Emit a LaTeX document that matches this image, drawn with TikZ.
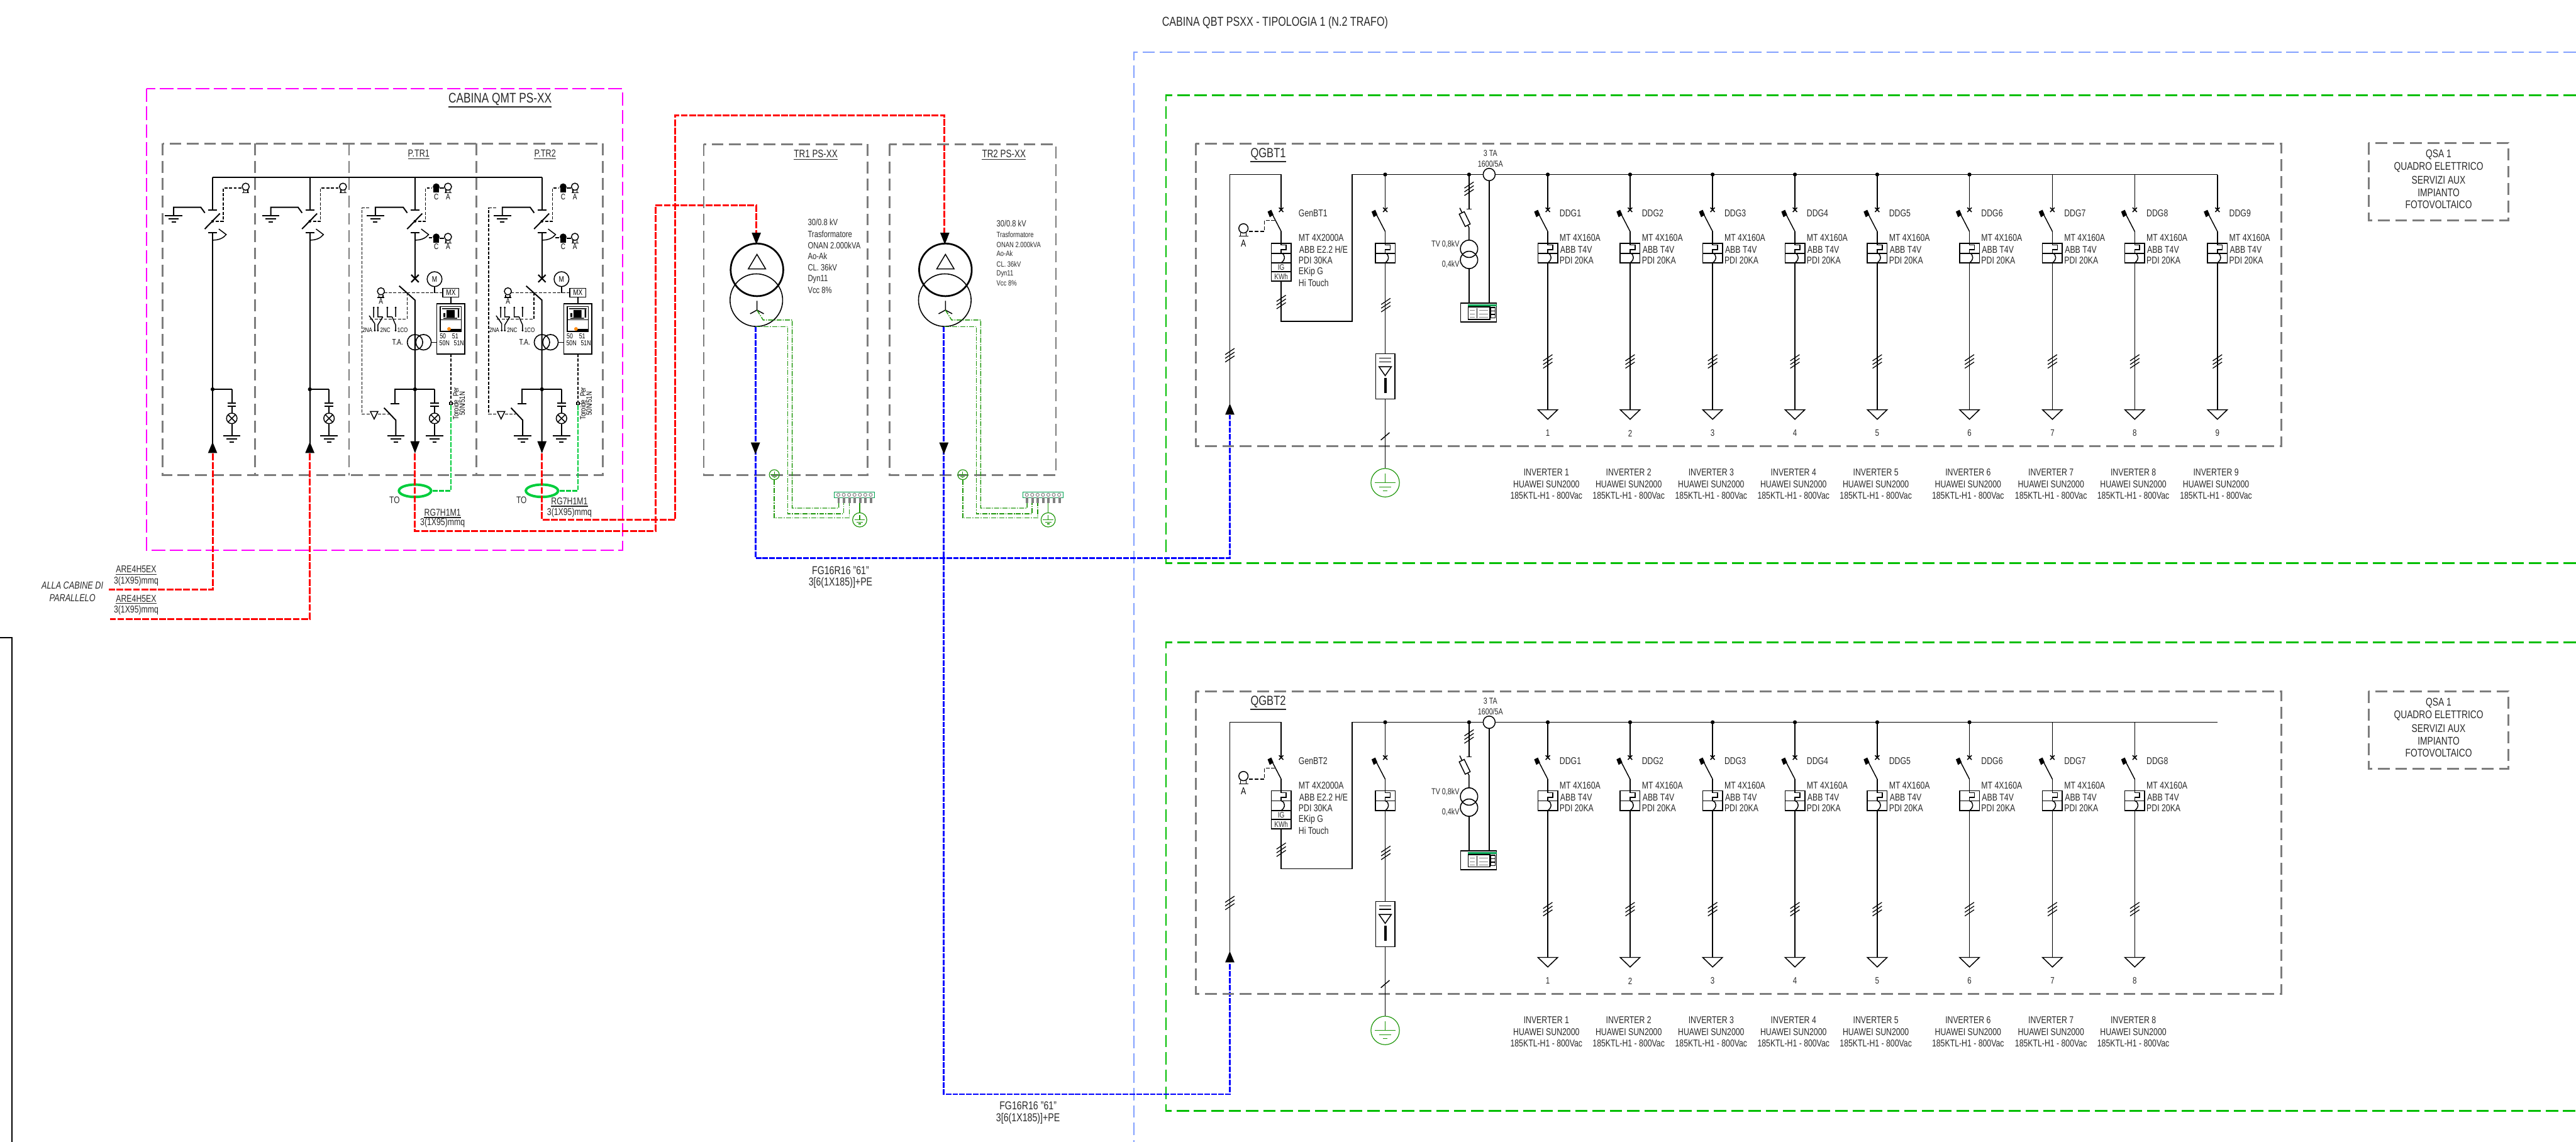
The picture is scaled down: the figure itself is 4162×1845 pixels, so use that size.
\documentclass[tikz,border=0pt]{standalone}
\usepackage{fontspec}
\setmainfont[FakeStretch=0.78]{Liberation Sans}
\definecolor{txtc}{RGB}{40,40,40}
\definecolor{greyb}{RGB}{125,125,125}
\definecolor{lblue}{RGB}{130,160,255}
\definecolor{gbox}{RGB}{0,190,0}
\definecolor{gearth}{RGB}{30,150,10}
\definecolor{mgreen}{RGB}{0,160,80}
\definecolor{magc}{RGB}{255,0,255}
\definecolor{redc}{RGB}{255,0,0}
\definecolor{bluc}{RGB}{0,0,255}
\definecolor{ringc}{RGB}{0,205,60}
\definecolor{orng}{RGB}{255,140,20}
\newcounter{tn}
\newcommand\fs[1]{\fontsize{#1}{#1}\selectfont}
\newcommand\T[4][]{\stepcounter{tn}\edef\tnm{t\arabic{tn}}\node[txt,#1] (\tnm) at (#2,#3) {#4};}
\newcommand\U[4][]{\stepcounter{tn}\edef\tnm{t\arabic{tn}}\node[txt,#1] (\tnm) at (#2,#3) {#4};
  \draw[line width=1.3pt,txtc] ([yshift=-2.5pt]\tnm.south west)--([yshift=-2.5pt]\tnm.south east);}
\tikzset{
  x=1pt,y=-1pt,
  txt/.style={inner sep=0pt,font=\fs{16},text=txtc},
  ksm/.style={inner sep=0pt,font=\fs{11.5},text=black},
  blk/.style={line width=2pt,black},
  thn/.style={line width=1.5pt,black},
  dsh/.style={line width=1.5pt,black,dash pattern=on 5pt off 2.5pt},
  gbx/.style={line width=2.8pt,greyb,dash pattern=on 19pt off 9pt},
  magb/.style={line width=2.4pt,magc,dash pattern=on 22pt off 7pt},
  lbl/.style={line width=2pt,lblue,dash pattern=on 20pt off 8pt},
  grn/.style={line width=2.6pt,gbox,dash pattern=on 20pt off 8pt},
  redl/.style={line width=3pt,redc,dash pattern=on 11pt off 2.5pt},
  blul/.style={line width=3pt,bluc,dash pattern=on 9pt off 2pt},
  gdd/.style={line width=1.5pt,gearth,dash pattern=on 8pt off 2pt on 1.5pt off 2pt},
  gnds/.pic={
    \draw[blk] (-14,0)--(14,0);
    \draw[blk] (-8.5,5)--(8.5,5);
    \draw[blk] (-3.5,10)--(3.5,10);
  },
  keyo/.pic={
    \draw[thn] (0,-2) circle (5);
    \draw[thn] (-3,2.8)--(-3,6.5) (3,2.8)--(3,6.5) (-5,6.5)--(5,6.5);
  },
  keyf/.pic={
    \fill (0,-2) circle (5);
    \fill (-4,0)--(4,0)--(4,6.5)--(-4,6.5)--cycle;
  },
  lampx/.pic={
    \draw[thn,fill=white] (0,0) circle (8.5);
    \draw[thn] (-6,-6)--(6,6) (-6,6)--(6,-6);
  },
  slash3/.pic={
    \draw[line width=1.3pt] (-7.5,-1)--(7.5,-11) (-7.5,5)--(7.5,-5) (-7.5,11)--(7.5,1);
  },
  eartg/.pic={
    \draw[line width=1.2pt,gearth] (0,0) circle (23);
    \draw[line width=1.2pt,gearth] (0,-15)--(0,0) (-17,0)--(17,0) (-10,7)--(10,7) (-4,13)--(4,13);
  },
  upar/.pic={\fill (0,-10)--(7.5,8)--(-7.5,8)--cycle;},
  dnar/.pic={\fill (0,10)--(7.5,-9)--(-7.5,-9)--cycle;},
}
\newcommand\mvswitch{%
  \draw[blk] (0,286.5)--(0,339);
  \draw[blk] (-7,339)--(7,339);
  \draw[blk] (-12.7,370)--(11.7,345);
  \fill (0,357.5) circle (2.2);
  \draw[blk] (-7,376)--(7,376);
}
\newcommand\lampbranch[1]{%
  \draw[blk] (#1,629)--(#1,651);
  \draw[blk] (#1-7,651.5)--(#1+7,651.5) (#1-7,656)--(#1+7,656);
  \draw[blk] (#1,656)--(#1,668) (#1,684)--(#1,704);
  \pic at (#1,676) {lampx};
  \pic at (#1,704) {gnds};
}
\newcommand\panelA[1]{\begin{scope}[shift={(#1,0)}]
  \mvswitch
  \draw[blk] (0,376)--(0,731);
  \draw[thn] (0,388) .. controls (10,388) and (17,385) .. (22,379) -- (10,370);
  \draw[dsh] (5,357.5)--(17,357.5)--(17,304)--(47,304);
  \pic[scale=1.15] at (53.5,304) {keyo};
  \draw[blk] (-12.5,344)--(-19,335)--(-63,335)--(-63,348.6);
  \pic at (-63,348.6) {gnds};
  \draw[blk] (0,629)--(31,629);
  \lampbranch{31}
  \fill (0,629) circle (3.2);
  \pic at (0,724) {upar};
\end{scope}}
\newcommand\panelB[1]{\begin{scope}[shift={(#1,0)}]
  \mvswitch
  \draw[dsh] (5,357.5)--(17,357.5)--(17,304)--(28,304);
  \pic[scale=1.1] at (34.3,304) {keyf}; \draw[thn] (40,304)--(47,304);
  \pic[scale=1.15] at (53.3,304) {keyo};
  \T[ksm,font=\fs{13}]{34.3}{318}{C}\T[ksm,font=\fs{13}]{53.3}{318}{A}
  \draw[blk] (0,376)--(0,450);
  \draw[thn] (0,388) .. controls (10,388) and (17,385) .. (22,379) -- (10,370);
  \draw[thn] (22,384)--(28,384);
  \pic[scale=1.1] at (34.3,385) {keyf}; \draw[thn] (40,385)--(47,385);
  \pic[scale=1.15] at (53.3,385) {keyo};
  \T[ksm,font=\fs{13}]{34.3}{398}{C}\T[ksm,font=\fs{13}]{53.3}{398}{A}
  \draw[line width=2.2pt] (-6,444)--(6,456) (-6,456)--(6,444);
  \draw[blk] (-25.5,462)--(0,485)--(0,731);
  \draw[blk] (31.6,463)--(31.6,473);
  \draw[thn] (31.6,451) circle (12);
  \T[ksm,font=\fs{13}]{31.6}{451}{M}
  \draw[dsh] (-50,473)--(45,473);
  \pic[scale=1.15] at (-55,473) {keyo};
  \T[ksm,font=\fs{13}]{-55}{487}{A}
  \draw[thn,fill=white] (45,466) rectangle (71,480);
  \T[ksm,font=\fs{13}]{58}{473}{MX}
  \draw[blk] (58,480)--(58,491);
  \draw[dsh] (-12.8,473)--(-12.8,515.7)--(-74,515.7);
  \draw[thn] (-66.7,497)--(-66.7,513) (-74,510)--(-65,523)--(-65,535);
  \draw[thn] (-60,497)--(-60,512)--(-52,512) (-52,512)--(-60,525)--(-60,535);
  \draw[thn] (-44.7,497)--(-44.7,512)--(-37,512) (-37,512)--(-31.3,525)--(-31.3,535) (-31.3,497)--(-31.3,512);
  \foreach \a in {-66.7,-60,-44.7,-31.3}{\fill (\a,497) circle (1.6);}
  \foreach \a in {-65,-60,-31.3}{\fill (\a,534) circle (1.6);}
  \T[ksm,font=\fs{10.5}]{-77}{533}{2NA}
  \T[ksm,font=\fs{10.5}]{-48}{533}{2NC}
  \T[ksm,font=\fs{10.5}]{-20}{533}{1CO}
  \T[ksm,font=\fs{13}]{-28}{553}{T.A.}
  \draw[line width=1.6pt] (0,553) circle (12.5) (13.8,553) circle (12.5);
  \draw[thn] (26,553)--(36,553);
  \draw[line width=1.7pt,black,fill=white] (35.3,491) rectangle (80.7,572);
  \draw[thn] (41,495.3) rectangle (75,535.7) (41,516.7)--(75,516.7);
  \fill (51,501) rectangle (64,513) (46,506) rectangle (49,512);
  \fill (69,500) rectangle (71.5,513) (44,498) rectangle (72,499.5) (46,513.5) rectangle (68,515);
  \fill (56,531) rectangle (74,535);
  \fill[orng] (55,531.5) circle (3);
  \T[ksm]{45}{543}{50}\T[ksm]{65}{543}{51}
  \T[ksm]{47.7}{554}{50N}\T[ksm]{71}{554}{51N}
  \draw[dsh] (58,572)--(58,650);
  \draw[thn,fill=white] (56,650) rectangle (60,654);
  \T[ksm,rotate=90,font=\fs{12.5}]{66}{652}{Toroide\ \ Per}
  \T[ksm,rotate=90,font=\fs{12.5}]{76}{652}{50N/51N}
  \draw[blk] (0,629)--(-32,629)--(-32,652);
  \draw[blk] (-39,652)--(-25,652);
  \draw[blk] (-50,659)--(-31,679)--(-31,704);
  \pic at (-31,704) {gnds};
  \lampbranch{31.6}
  \draw[blk] (0,629)--(31.6,629);
  \fill (0,629) circle (3.2);
  \draw[dsh] (-74,336)--(-86,336)--(-86,669)--(-72,669);
  \draw[thn] (-72,665)--(-60,665)--(-66,677)--cycle;
  \draw[dsh] (-60,669)--(-42,669);
  \draw[blk] (-12.5,344)--(-19,335)--(-64,335)--(-64,348.6);
  \pic at (-64,348.6) {gnds};
  \pic at (0,722) {dnar};
  \draw[line width=2.4pt,ringc,dash pattern=on 8pt off 2pt] (58,654)--(58,793)--(27,793);
  \draw[line width=4pt,ringc] (0,793) ellipse [x radius=26,y radius=10];
  \T[font=\fs{15.5}]{-33}{808}{TO}
\end{scope}}
\newcommand\trafo[1]{\begin{scope}[shift={(#1,0)}]
  \draw[line width=2.8pt] (1223,436) circle (42.5);
  \draw[line width=1.6pt] (1222,485) circle (42.5);
  \draw[thn] (1223,411)--(1237,434.5)--(1209,434.5)--cycle;
  \draw[thn] (1223,486)--(1223,501)--(1212,507) (1223,501)--(1234,507);
  \pic at (1222,385) {dnar};
  \draw[gdd] (1223,501)--(1233,517)--(1280,517)--(1280,821)--(1355,821)--(1355,812);
  \draw[gdd] (1220.5,528)--(1272.8,528)--(1272.8,830)--(1363,830)--(1363,812);
  \draw[gdd] (1251,775)--(1251,837)--(1372,837)--(1372,812);
  \pic[scale=0.35] at (1251,767) {eartg};
  \draw[line width=1.5pt,mgreen] (1348,795) rectangle (1413,804);
  \foreach \k in {0,...,6}{%
    \fill[gray] ({1353+8.7*\k},804) rectangle ++(4,8.5);
    \draw[line width=1pt,gray] ({1354.5+8.7*\k},799.5) circle (2.6);
  }
  \draw[line width=1.3pt,gearth] (1389,812.5)--(1389,829);
  \pic[scale=0.5] at (1389,840) {eartg};
\end{scope}}
\newcommand\brk{%
  \draw[thn] (-16,393) rectangle (16,424.6);
  \draw[blk] (-16,409)--(16,409);
  \draw[thn] (0,393)--(0,396)--(8,396)--(8,403.5)--(0,403.5)--(0,409);
  \draw[thn] (0,409) .. controls (7,411) and (7,420) .. (0,424.6);
}
\newcommand\brkblade{%
  \draw[line width=1.6pt] (-3.5,335.5)--(3.5,342.5) (-3.5,342.5)--(3.5,335.5);
  \draw[thn] (0,374)--(-15,345);
  \fill (-22,342)--(-16,339)--(-12.5,347)--(-18.5,351)--cycle;
}
\newcommand\feeder[3]{\begin{scope}[shift={(#1,0)}]
  \draw[thn] (0,282)--(0,339);
  \brkblade
  \draw[thn] (0,374)--(0,393);
  \brk
  \draw[thn] (0,424.6)--(0,662);
  \pic at (0,584) {slash3};
  \draw[thn,fill=white] (-16,662)--(16,662)--(0,677.5)--cycle;
  \T[anchor=west]{19}{345}{DDG#2}
  \T[anchor=west]{19}{384}{MT 4X160A}
  \T[anchor=west]{20}{403}{ABB T4V}
  \T[anchor=west]{19}{420.5}{PDI 20KA}
  \T[font=\fs{15}]{0}{700}{#2}
  \T{-2.3}{763}{INVERTER #3}
  \T{-2.3}{782}{HUAWEI SUN2000}
  \T{-2.3}{801}{185KTL-H1 - 800Vac}
\end{scope}}
\newcommand\qgbt[4]{\begin{scope}[shift={(0,#1)}]
  \draw[gbx] (1932,232) rectangle (3686,721);
  \U[font=\fs{21.5}]{2049}{249}{#2}
  \draw[thn] (1987,652)--(1987,282)--(2070,282)--(2070,339);
  \pic at (1987,574) {slash3};
  \begin{scope}[shift={(2070,0)}]
    \brkblade
    \draw[thn] (0,374)--(0,393);
    \brk
    \draw[thn] (-16,424.6) rectangle (16,454);
    \draw[blk] (-16,424.6)--(16,424.6) (-16,439)--(16,439) (-16,454)--(16,454);
    \T[font=\fs{13}]{0}{432}{IG}
    \T[font=\fs{13}]{0}{447}{KWh}
    \draw[thn] (0,454)--(0,519)--(114.7,519)--(114.7,282)--(#4,282);
    \pic at (0,488) {slash3};
    \T[anchor=west]{28}{345}{#3}
    \T[anchor=west]{28}{384}{MT 4X2000A}
    \T[anchor=west]{29}{403}{ABB E2.2 H/E}
    \T[anchor=west]{28}{420.5}{PDI 30KA}
    \T[anchor=west]{28}{439}{EKip G}
    \T[anchor=west]{28}{457}{Hi Touch}
  \end{scope}
  \pic[scale=1.5] at (2009,372) {keyo};
  \T[ksm,font=\fs{16}]{2009}{393}{A}
  \draw[thn,dash pattern=on 6pt off 3pt] (2018,374)--(2043,374)--(2043,356)--(2061,356);
  \begin{scope}[shift={(2238,0)}]
    \draw[thn] (0,282)--(0,339);
    \brkblade
    \draw[thn] (0,374)--(0,393);
    \brk
    \draw[thn] (0,424.6)--(0,571.5);
    \pic at (1,493) {slash3};
    \draw[thn,fill=white] (-15.5,571.5) rectangle (15.5,644.7);
    \draw[thn] (-10,578.5)--(10,578.5) (-10,584.5)--(10,584.5);
    \draw[thn] (-10,592.5)--(10,592.5)--(0,607)--cycle;
    \fill (-2,611) rectangle (2,635);
    \draw[thn] (0,644.7)--(0,757);
    \draw[thn] (-7,711)--(7,699);
    \pic at (0,780) {eartg};
    \fill (0,282) circle (3.2);
  \end{scope}
  \draw[thn] (2373.5,282)--(2373.5,338) (2369.5,338)--(2377.5,338);
  \pic at (2373.5,305) {slash3};
  \draw[thn] (2358.5,336)--(2373.5,368)--(2373.5,388);
  \draw[thn,fill=white] (2375.35,361.9)--(2367.25,365.9)--(2357.65,346)--(2365.75,342.1)--cycle;
  \draw[line width=1.6pt] (2373.5,402) circle (14) (2373.5,420) circle (14);
  \draw[thn] (2373.5,434)--(2373.5,490);
  \T[font=\fs{14},anchor=east]{2358}{394.5}{TV 0,8kV}
  \T[font=\fs{14},anchor=east]{2358}{427}{0,4kV}
  \draw[thn,fill=white] (2406,282) ellipse [x radius=9.7,y radius=10];
  \draw[thn] (2406,292)--(2406,490);
  \T[font=\fs{14}]{2408}{247.5}{3 TA}
  \T[font=\fs{14}]{2408}{264.4}{1600/5A}
  \draw[line width=1.6pt] (2360,490) rectangle (2418,520);
  \fill[mgreen] (2372,492) rectangle (2418,495);
  \draw[line width=1.4pt] (2372,496) rectangle (2407,516);
  \fill (2385.5,498) rectangle (2387,514);
  \draw[line width=.5pt,gray] (2375,501)--(2383,501) (2375,507)--(2383,507) (2375,512)--(2383,512) (2390,501)--(2404,501) (2390,507)--(2404,507) (2390,512)--(2404,512);
  \draw[line width=1.3pt] (2409,497) rectangle (2416,514) (2409,502.5)--(2416,502.5) (2409,508)--(2416,508);
  \fill (2373.5,282) circle (3.2);
\end{scope}}
\begin{document}
\begin{tikzpicture}
\useasboundingbox (0,0) rectangle (4162,1845);
\draw[lbl] (4162,84)--(1832,84)--(1832,1845);
\draw[grn] (4162,154)--(1884,154)--(1884,910)--(4162,910);
\draw[grn] (4162,1038)--(1884,1038)--(1884,1795)--(4162,1795);
\draw[magb] (237,143) rectangle (1006,889);
\draw[line width=1.7pt] (0,1030)--(19,1030)--(19,1845);
\T[font=\fs{21}]{2060}{37}{CABINA QBT PSXX - TIPOLOGIA 1 (N.2 TRAFO)}
\U[font=\fs{22.5}]{808}{160}{CABINA QMT PS-XX}
\draw[gbx] (263,232) rectangle (974,768);
\draw[gbx] (412,232)--(412,768) (564,232)--(564,768) (769.5,232)--(769.5,768);
\U[font=\fs{16.5}]{676.6}{248}{P.TR1}
\U[font=\fs{16.5}]{880.7}{248}{P.TR2}
\draw[line width=2pt] (343.5,286.5)--(875.6,286.5);
\panelA{343.5}
\panelA{500.6}
\panelB{670.5}
\panelB{875.6}
\coordinate (rA1) at (343.5,733);
\coordinate (rA2) at (500.6,733);
\coordinate (rB1) at (670.5,733);
\coordinate (rB2) at (875.6,733);
\coordinate (ea1) at (176,953);
\coordinate (ea2) at (178,1000);
\coordinate (tr1in) at (1222,376);
\coordinate (tr2in) at (1526,376);
\draw[redl] (rA1)--(rA1|-ea1)--(ea1);
\draw[redl] (rA2)--(rA2|-ea2)--(ea2);
\draw[redl] (rB1)--(670.5,858)--(1059,858)--(1059,332)--(1222,332)--(tr1in);
\draw[redl] (rB2)--(875.6,840)--(1091,840)--(1091,186)--(1526,186)--(tr2in);
\U{715}{828}{RG7H1M1}
\T{715}{845}{3(1X95)mmq}
\U{920}{809.6}{RG7H1M1}
\T{920}{829}{3(1X95)mmq}
\U{220}{920}{ARE4H5EX}
\T{220}{939}{3(1X95)mmq}
\U{220}{967}{ARE4H5EX}
\T{220}{986}{3(1X95)mmq}
\T[font=\fs{16.5}\itshape]{117}{946}{ALLA CABINE DI}
\T[font=\fs{16.5}\itshape]{117}{966}{PARALLELO}
\draw[gbx] (1137,233) rectangle (1402,768);
\draw[gbx] (1437,233) rectangle (1706,768);
\U[font=\fs{17.5}]{1318}{248.5}{TR1 PS-XX}
\U[font=\fs{17.5}]{1622}{248.5}{TR2 PS-XX}
\coordinate (tr1lv) at (1220.5,528);
\coordinate (tr2lv) at (1525,528);
\coordinate (qa1) at (1987,671);
\coordinate (qa2) at (1987,1556);
\draw[blul] (tr1lv)--(1220.5,901.5)--(1987,901.5)--(qa1);
\draw[blul] (tr2lv)--(1525,1768)--(1987,1768)--(qa2);
\trafo{0}
\trafo{304.5}
\pic at (1220.5,724) {dnar};
\pic at (1525,724) {dnar};
\pic at (1987,662) {upar};
\pic at (1987,1547) {upar};
\T[anchor=west,font=\fs{14.7}]{1305}{359}{30/0.8 kV}
\T[anchor=west,font=\fs{14.7}]{1305}{378}{Trasformatore}
\T[anchor=west,font=\fs{14.7}]{1305}{397}{ONAN 2.000kVA}
\T[anchor=west,font=\fs{14.7}]{1305}{414}{Ao-Ak}
\T[anchor=west,font=\fs{14.7}]{1305}{432.5}{CL. 36kV}
\T[anchor=west,font=\fs{14.7}]{1305}{451}{Dyn11}
\T[anchor=west,font=\fs{14.7}]{1305}{469}{Vcc 8\%}
\T[anchor=west,font=\fs{14.5}]{1610}{361}{30/0.8 kV}
\T[anchor=west,font=\fs{12.3}]{1610}{379}{Trasformatore}
\T[anchor=west,font=\fs{12.3}]{1610}{395}{ONAN 2.000kVA}
\T[anchor=west,font=\fs{12.3}]{1610}{410}{Ao-Ak}
\T[anchor=west,font=\fs{12.3}]{1610}{427}{CL. 36kV}
\T[anchor=west,font=\fs{12.3}]{1610}{443}{Dyn11}
\T[anchor=west,font=\fs{12.3}]{1610}{458}{Vcc 8\%}
\T[font=\fs{18.5}]{1358}{922}{FG16R16 "61"}
\T[font=\fs{18.5}]{1358}{942}{3[6(1X185)]+PE}
\T[font=\fs{18.5}]{1661}{1787}{FG16R16 "61"}
\T[font=\fs{18.5}]{1661}{1807}{3[6(1X185)]+PE}
\qgbt{0}{QGBT1}{GenBT1}{1512.6}
\foreach \X/\n in {2500.7/1,2633.7/2,2767/3,2900/4,3033/5,3182/6,3316/7,3449/8,3582.6/9}{\feeder{\X}{\n}{\n}}
\foreach \X in {2500.7,2633.7,2767,2900,3033,3182}{\fill (\X,282) circle (3.2);}
\qgbt{885}{QGBT2}{GenBT2}{1512.6}
\begin{scope}[shift={(0,885)}]
\foreach \X/\n in {2500.7/1,2633.7/2,2767/3,2900/4,3033/5,3182/6,3316/7,3449/8}{\feeder{\X}{\n}{\n}}
\foreach \X in {2500.7,2633.7,2767,2900,3033,3182}{\fill (\X,282) circle (3.2);}
\end{scope}
\foreach \Y in {0,886}{\begin{scope}[shift={(0,\Y)}]
\draw[gbx] (3827,231) rectangle (4053,356);
\T[font=\fs{18}]{3940}{249.5}{QSA 1}
\T[font=\fs{18}]{3940}{270}{QUADRO ELETTRICO}
\T[font=\fs{18}]{3940}{291}{SERVIZI AUX}
\T[font=\fs{18}]{3940}{311}{IMPIANTO}
\T[font=\fs{18}]{3940}{331}{FOTOVOLTAICO}
\end{scope}}
\end{tikzpicture}
\end{document}
